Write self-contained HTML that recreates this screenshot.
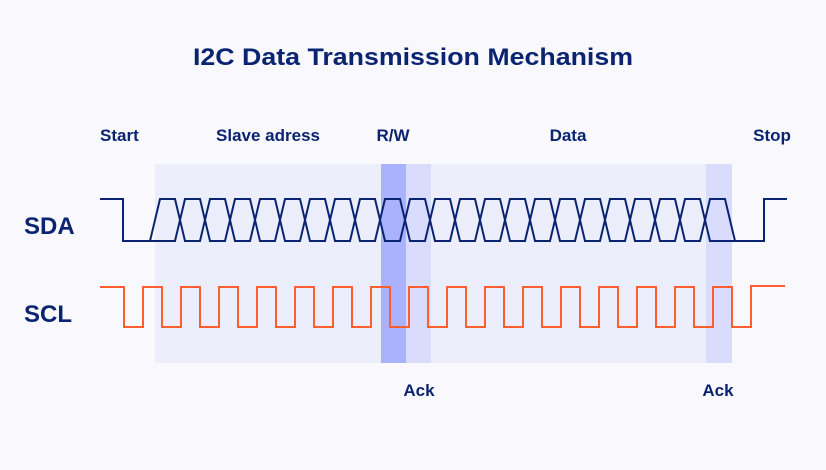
<!DOCTYPE html>
<html><head><meta charset="utf-8"><style>
html,body{margin:0;padding:0;background:#f8f8fd;}
svg{display:block;}
text{font-family:"Liberation Sans",sans-serif;font-weight:bold;fill:#0b2472;}
</style></head><body>
<svg id="s" width="826" height="470" viewBox="0 0 826 470" xmlns="http://www.w3.org/2000/svg">
<rect x="0" y="0" width="826" height="470" fill="#f8f8fd"/>
<rect x="155" y="164" width="577" height="199" fill="#eceefc"/>
<rect x="381" y="164" width="25" height="199" fill="#aab2fd"/>
<rect x="406" y="164" width="25" height="199" fill="#d9dcfd"/>
<rect x="706" y="164" width="26" height="199" fill="#d9dcfd"/>
<text x="413" y="65" text-anchor="middle" font-size="24" textLength="440" lengthAdjust="spacingAndGlyphs">I2C Data Transmission Mechanism</text>
<text x="100" y="141" font-size="17">Start</text>
<text x="268" y="141" font-size="17" text-anchor="middle">Slave adress</text>
<text x="393" y="141" font-size="17" text-anchor="middle">R/W</text>
<text x="568" y="141" font-size="17" text-anchor="middle">Data</text>
<text x="772" y="141" font-size="17" text-anchor="middle">Stop</text>
<text x="24" y="234" font-size="24">SDA</text>
<text x="24" y="322" font-size="24">SCL</text>
<text x="419" y="396" font-size="17" text-anchor="middle">Ack</text>
<text x="718" y="396" font-size="17" text-anchor="middle">Ack</text>
<path id="sda1" fill="none" stroke="#0b2472" stroke-width="2"/>
<path id="sda2" fill="none" stroke="#0b2472" stroke-width="2"/>
<path id="scl" fill="none" stroke="#ff5f2e" stroke-width="2"/>
</svg>
<script>
var H=199,L=241;
var p1="M100 199 H123 V241 H150 L160 199",p2="M150 241";
var y1=H,y2=L;
for(var k=0;k<22;k++){var c=180+25*k;
p1+=" H"+(c-5)+" L"+(c+5)+" "+(y1==H?L:H);y1=(y1==H?L:H);
p2+=" H"+(c-5)+" L"+(c+5)+" "+(y2==H?L:H);y2=(y2==H?L:H);}
p1+=" H725 L735 241 H764 V199 H787";
p2+=" H735";
document.getElementById("sda1").setAttribute("d",p1);
document.getElementById("sda2").setAttribute("d",p2);
var s="M100 287 H124 V327";
for(var j=0;j<16;j++){var u=143+38*j;s+=" H"+u+" V287 H"+(u+19)+" V327";}
s+=" H751 V286 H785";
document.getElementById("scl").setAttribute("d",s);
</script>
</body></html>
